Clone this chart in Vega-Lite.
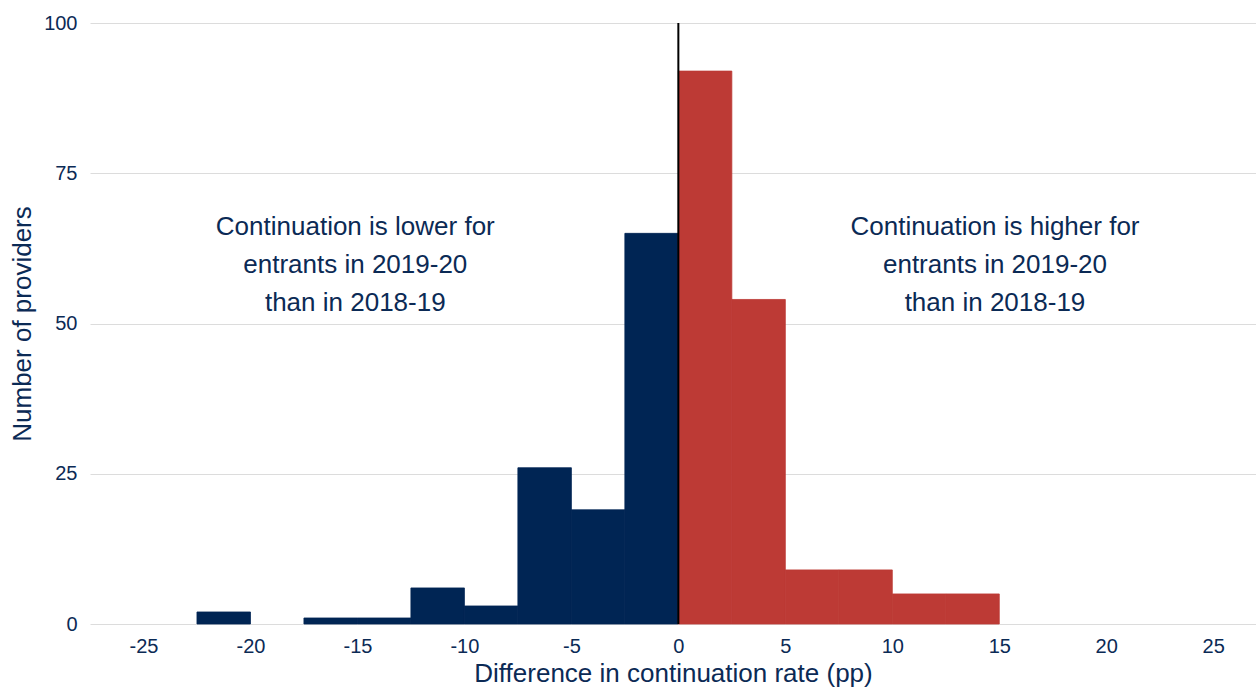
{
  "$schema": "https://vega.github.io/schema/vega-lite/v6.json",
  "width": 1166,
  "height": 601,
  "autosize": {"type": "none"},
  "padding": {"left": 90, "top": 23, "right": 0, "bottom": 65},
  "background": "white",
  "config": {
    "view": {"stroke": null},
    "font": "Liberation Sans",
    "axis": {
      "labelFont": "Liberation Sans",
      "titleFont": "Liberation Sans",
      "labelColor": "#0b2a55",
      "titleColor": "#0b2a55",
      "labelFontSize": 20,
      "titleFontSize": 26,
      "titleFontWeight": "normal",
      "domain": false,
      "ticks": false
    }
  },
  "datasets": {
    "bins": [
      {"bin_start": -22.5, "bin_end": -20, "providers": 2, "side": "lower"},
      {"bin_start": -20, "bin_end": -17.5, "providers": 0, "side": "lower"},
      {"bin_start": -17.5, "bin_end": -15, "providers": 1, "side": "lower"},
      {"bin_start": -15, "bin_end": -12.5, "providers": 1, "side": "lower"},
      {"bin_start": -12.5, "bin_end": -10, "providers": 6, "side": "lower"},
      {"bin_start": -10, "bin_end": -7.5, "providers": 3, "side": "lower"},
      {"bin_start": -7.5, "bin_end": -5, "providers": 26, "side": "lower"},
      {"bin_start": -5, "bin_end": -2.5, "providers": 19, "side": "lower"},
      {"bin_start": -2.5, "bin_end": 0, "providers": 65, "side": "lower"},
      {"bin_start": 0, "bin_end": 2.5, "providers": 92, "side": "higher"},
      {"bin_start": 2.5, "bin_end": 5, "providers": 54, "side": "higher"},
      {"bin_start": 5, "bin_end": 7.5, "providers": 9, "side": "higher"},
      {"bin_start": 7.5, "bin_end": 10, "providers": 9, "side": "higher"},
      {"bin_start": 10, "bin_end": 12.5, "providers": 5, "side": "higher"},
      {"bin_start": 12.5, "bin_end": 15, "providers": 5, "side": "higher"}
    ],
    "notes": [
      {"x": -15.1, "y": 66, "label": "Continuation is lower for\nentrants in 2019-20\nthan in 2018-19"},
      {"x": 14.8, "y": 66, "label": "Continuation is higher for\nentrants in 2019-20\nthan in 2018-19"}
    ],
    "zero": [{"x": 0, "y0": 0, "y1": 100}]
  },
  "layer": [
    {
      "data": {"name": "bins"},
      "mark": {"type": "rect", "strokeWidth": 0.8},
      "encoding": {
        "x": {
          "field": "bin_start",
          "type": "quantitative",
          "scale": {"domain": [-27.5, 27], "nice": false, "zero": false},
          "axis": {
            "title": "Difference in continuation rate (pp)",
            "values": [-25, -20, -15, -10, -5, 0, 5, 10, 15, 20, 25],
            "labelExpr": "datum.value + ''",
            "grid": false,
            "labelPadding": 12,
            "titlePadding": 4
          }
        },
        "x2": {"field": "bin_end"},
        "y": {
          "field": "providers",
          "type": "quantitative",
          "scale": {"domain": [0, 100], "nice": false},
          "axis": {
            "title": "Number of providers",
            "values": [0, 25, 50, 75, 100],
            "grid": true,
            "gridColor": "#dcdcdc",
            "gridWidth": 1,
            "labelPadding": 13,
            "titlePadding": 8
          }
        },
        "y2": {"datum": 0},
        "color": {
          "field": "side",
          "type": "nominal",
          "scale": {"domain": ["lower", "higher"], "range": ["#002554", "#bd3a35"]},
          "legend": null
        },
        "stroke": {
          "field": "side",
          "type": "nominal",
          "scale": {"domain": ["lower", "higher"], "range": ["#002554", "#bd3a35"]},
          "legend": null
        },
        "strokeOpacity": {
          "condition": {"test": "datum.providers > 0", "value": 1},
          "value": 0
        }
      }
    },
    {
      "data": {"name": "zero"},
      "mark": {"type": "rule", "color": "#000000", "strokeWidth": 2},
      "encoding": {
        "x": {"field": "x", "type": "quantitative"},
        "y": {"field": "y0", "type": "quantitative"},
        "y2": {"field": "y1"}
      }
    },
    {
      "data": {"name": "notes"},
      "mark": {
        "type": "text",
        "font": "Liberation Sans",
        "fontSize": 26,
        "color": "#0b2a55",
        "align": "center",
        "baseline": "middle",
        "lineBreak": "\n",
        "lineHeight": 38
      },
      "encoding": {
        "x": {"field": "x", "type": "quantitative"},
        "y": {"field": "y", "type": "quantitative"},
        "text": {"field": "label"}
      }
    }
  ]
}
